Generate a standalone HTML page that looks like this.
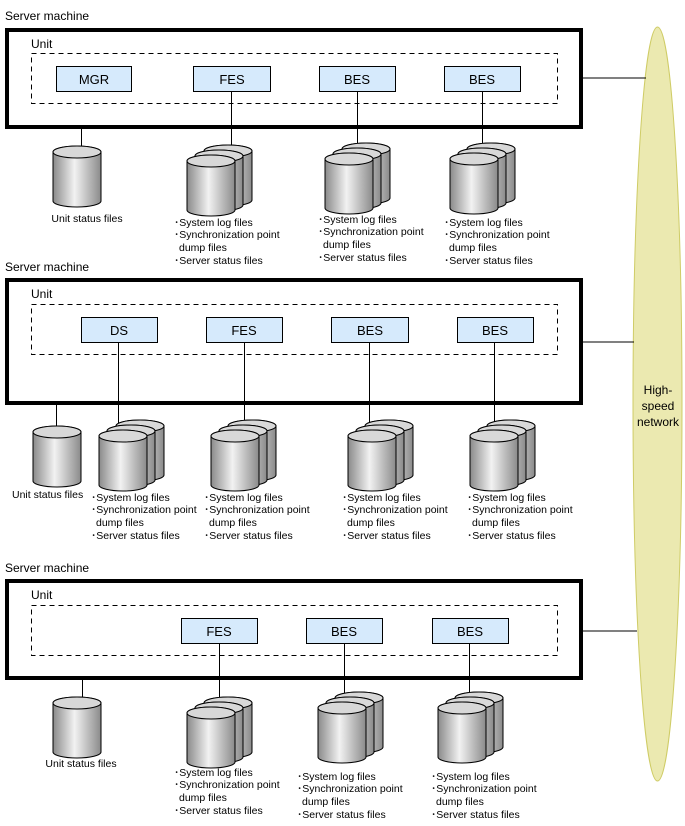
<!DOCTYPE html>
<html><head><meta charset="utf-8"><style>
body{margin:0;background:#fff}
svg{display:block;font-family:"Liberation Sans",sans-serif}
text{font-size:10.5px;fill:#000}
.t{font-size:12px}
.b{font-size:13px}
</style></head><body>
<svg width="685" height="826" viewBox="0 0 685 826" xmlns="http://www.w3.org/2000/svg">
<defs>
<linearGradient id="g" x1="0" x2="1" y1="0" y2="0">
<stop offset="0" stop-color="#8a8a8a"/><stop offset="0.45" stop-color="#f2f2f2"/><stop offset="1" stop-color="#8a8a8a"/>
</linearGradient>
<g id="cyl">
<path d="M0,6 L0,55 A24,6 0 0 0 48,55 L48,6 A24,6 0 0 0 0,6 Z" fill="url(#g)" stroke="#000" stroke-width="1"/>
<ellipse cx="24" cy="6" rx="24" ry="6" fill="#d8d8d8" stroke="#000" stroke-width="1"/>
</g>
<g id="stk">
<use href="#cyl" x="17" y="0"/>
<use href="#cyl" x="8" y="5"/>
<use href="#cyl" x="0" y="10"/>
</g>
</defs>

<!-- network -->
<ellipse cx="657.5" cy="404" rx="24.5" ry="377" fill="#ebe9b0" stroke="#cfcc66" stroke-width="1"/>
<text x="658" y="394" text-anchor="middle" class="t">High-</text>
<text x="658" y="410" text-anchor="middle" class="t">speed</text>
<text x="658" y="426" text-anchor="middle" class="t">network</text>
<g stroke="#000" stroke-width="1">
<line x1="583" y1="78" x2="646" y2="78"/>
<line x1="583" y1="342" x2="634" y2="342"/>
<line x1="583" y1="631" x2="637" y2="631"/>
</g>

<!-- Section 1 -->
<text x="5" y="20" class="t">Server machine</text>
<rect x="7" y="30" width="574" height="97" fill="none" stroke="#000" stroke-width="4"/>
<text x="31" y="48" class="t">Unit</text>
<rect x="31.5" y="53.5" width="526" height="50" fill="none" stroke="#000" stroke-dasharray="5,4"/>
<g fill="#d6eafc" stroke="#000">
<rect x="56.5" y="66.5" width="75" height="25"/>
<rect x="193.5" y="66.5" width="77" height="25"/>
<rect x="319.5" y="66.5" width="76" height="25"/>
<rect x="444.5" y="66.5" width="76" height="25"/>
</g>
<text x="94" y="84" text-anchor="middle" class="b">MGR</text>
<text x="232" y="84" text-anchor="middle" class="b">FES</text>
<text x="357" y="84" text-anchor="middle" class="b">BES</text>
<text x="482" y="84" text-anchor="middle" class="b">BES</text>
<g stroke="#000">
<line x1="81.5" y1="129" x2="81.5" y2="148"/>
<line x1="231.5" y1="91" x2="231.5" y2="148"/>
<line x1="357.5" y1="91" x2="357.5" y2="146"/>
<line x1="482.5" y1="91" x2="482.5" y2="146"/>
</g>
<use href="#cyl" x="53" y="146"/>
<use href="#stk" x="187" y="145"/>
<use href="#stk" x="325" y="143"/>
<use href="#stk" x="450" y="143"/>
<text x="87" y="222" text-anchor="middle">Unit status files</text>
<g>
<text x="174" y="226">･System log files</text>
<text x="174" y="238">･Synchronization point</text>
<text x="179" y="251">dump files</text>
<text x="174" y="264">･Server status files</text>
<text x="318" y="223">･System log files</text>
<text x="318" y="235">･Synchronization point</text>
<text x="323" y="248">dump files</text>
<text x="318" y="261">･Server status files</text>
<text x="444" y="226">･System log files</text>
<text x="444" y="238">･Synchronization point</text>
<text x="449" y="251">dump files</text>
<text x="444" y="264">･Server status files</text>
</g>

<!-- Section 2 -->
<text x="5" y="271" class="t">Server machine</text>
<rect x="7" y="280" width="574" height="123" fill="none" stroke="#000" stroke-width="4"/>
<text x="31" y="298" class="t">Unit</text>
<rect x="31.5" y="304.5" width="526" height="50" fill="none" stroke="#000" stroke-dasharray="5,4"/>
<g fill="#d6eafc" stroke="#000">
<rect x="81.5" y="317.5" width="76" height="25"/>
<rect x="206.5" y="317.5" width="76" height="25"/>
<rect x="331.5" y="317.5" width="77" height="25"/>
<rect x="457.5" y="317.5" width="76" height="25"/>
</g>
<text x="119" y="335" text-anchor="middle" class="b">DS</text>
<text x="244" y="335" text-anchor="middle" class="b">FES</text>
<text x="370" y="335" text-anchor="middle" class="b">BES</text>
<text x="495" y="335" text-anchor="middle" class="b">BES</text>
<g stroke="#000">
<line x1="56.5" y1="404" x2="56.5" y2="428"/>
<line x1="118.5" y1="342" x2="118.5" y2="424"/>
<line x1="244.5" y1="342" x2="244.5" y2="424"/>
<line x1="369.5" y1="342" x2="369.5" y2="424"/>
<line x1="494.5" y1="342" x2="494.5" y2="424"/>
</g>
<use href="#cyl" x="33" y="426"/>
<use href="#stk" x="99" y="420"/>
<use href="#stk" x="211" y="420"/>
<use href="#stk" x="348" y="420"/>
<use href="#stk" x="470" y="420"/>
<text x="12" y="498">Unit status files</text>
<g>
<text x="91" y="501">･System log files</text>
<text x="91" y="513">･Synchronization point</text>
<text x="96" y="526">dump files</text>
<text x="91" y="539">･Server status files</text>
<text x="204" y="501">･System log files</text>
<text x="204" y="513">･Synchronization point</text>
<text x="209" y="526">dump files</text>
<text x="204" y="539">･Server status files</text>
<text x="342" y="501">･System log files</text>
<text x="342" y="513">･Synchronization point</text>
<text x="347" y="526">dump files</text>
<text x="342" y="539">･Server status files</text>
<text x="467" y="501">･System log files</text>
<text x="467" y="513">･Synchronization point</text>
<text x="472" y="526">dump files</text>
<text x="467" y="539">･Server status files</text>
</g>

<!-- Section 3 -->
<text x="5" y="572" class="t">Server machine</text>
<rect x="7" y="581" width="574" height="97" fill="none" stroke="#000" stroke-width="4"/>
<text x="31" y="599" class="t">Unit</text>
<rect x="31.5" y="605.5" width="526" height="50" fill="none" stroke="#000" stroke-dasharray="5,4"/>
<g fill="#d6eafc" stroke="#000">
<rect x="181.5" y="618.5" width="76" height="25"/>
<rect x="306.5" y="618.5" width="76" height="25"/>
<rect x="432.5" y="618.5" width="76" height="25"/>
</g>
<text x="219" y="636" text-anchor="middle" class="b">FES</text>
<text x="344" y="636" text-anchor="middle" class="b">BES</text>
<text x="470" y="636" text-anchor="middle" class="b">BES</text>
<g stroke="#000">
<line x1="82.5" y1="680" x2="82.5" y2="699"/>
<line x1="219.5" y1="643" x2="219.5" y2="699"/>
<line x1="344.5" y1="643" x2="344.5" y2="694"/>
<line x1="469.5" y1="643" x2="469.5" y2="694"/>
</g>
<use href="#cyl" x="53" y="697"/>
<use href="#stk" x="187" y="697"/>
<use href="#stk" x="318" y="692"/>
<use href="#stk" x="438" y="692"/>
<text x="81" y="767" text-anchor="middle">Unit status files</text>
<g>
<text x="174" y="776">･System log files</text>
<text x="174" y="788">･Synchronization point</text>
<text x="179" y="801">dump files</text>
<text x="174" y="814">･Server status files</text>
<text x="297" y="780">･System log files</text>
<text x="297" y="792">･Synchronization point</text>
<text x="302" y="805">dump files</text>
<text x="297" y="818">･Server status files</text>
<text x="431" y="780">･System log files</text>
<text x="431" y="792">･Synchronization point</text>
<text x="436" y="805">dump files</text>
<text x="431" y="818">･Server status files</text>
</g>
</svg>
</body></html>
